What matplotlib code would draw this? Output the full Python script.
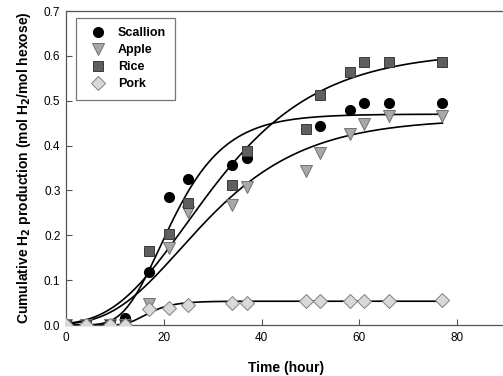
import numpy as np
import matplotlib
matplotlib.use("Agg")
import matplotlib.pyplot as plt

plt.rcParams['font.family'] = ['Liberation Sans', 'DejaVu Sans']

# Sampling times (hour)
hours = [0, 4, 9, 12, 17, 21, 25, 34, 37, 49, 52, 58, 61, 66, 77]

# Cumulative H2 (mol H2/mol hexose)
scallion = [0, 0, 0, 0.015, 0.119, 0.286, 0.325, 0.357, 0.372, 0.437, 0.443, 0.479, 0.496, 0.496, 0.496]
apple = [0, 0, 0, 0, 0.047, 0.171, 0.253, 0.267, 0.308, 0.343, 0.384, 0.426, 0.447, 0.466, 0.466]
rice = [0, 0, 0, 0, 0.165, 0.203, 0.273, 0.312, 0.388, 0.438, 0.512, 0.565, 0.587, 0.587, 0.587]
pork = [0, 0, 0, 0, 0.036, 0.038, 0.044, 0.048, 0.049, 0.053, 0.053, 0.053, 0.054, 0.054, 0.056]

# modified Gompertz fits: P, Rm, lambda
fit_P = {'Scallion': 0.47, 'Apple': 0.46, 'Rice': 0.61, 'Pork': 0.053}
fit_Rm = {'Scallion': 0.0234, 'Apple': 0.0121, 'Rice': 0.0151, 'Pork': 0.00573}
fit_lam = {'Scallion': 11.8, 'Apple': 9.4, 'Rice': 9.7, 'Pork': 12.3}


def gompertz(t, P, Rm, lam):
    return P * np.exp(-np.exp(Rm * np.e / P * (lam - t) + 1))


fig = plt.figure(figsize=(5.03, 3.76), dpi=100)
ax = fig.add_axes([66 / 503, 51 / 376, 440 / 503, 314 / 376])

t = np.linspace(0, 77, 300)
for name in ['Scallion', 'Apple', 'Rice', 'Pork']:
    ax.plot(t, gompertz(t, fit_P[name], fit_Rm[name], fit_lam[name]),
            color='black', lw=1.2, zorder=2)

ax.plot(hours, scallion, 'o', ms=7, mfc='black', mec='black', ls='none',
        label='Scallion', zorder=3)
ax.plot(hours, apple, 'v', ms=8, mfc='#a8a8a8', mec='#707070', mew=0.7,
        ls='none', label='Apple', zorder=3)
ax.plot(hours, rice, 's', ms=6.5, mfc='#5f5f5f', mec='#3a3a3a', mew=0.7,
        ls='none', label='Rice', zorder=3)
ax.plot(hours, pork, 'D', ms=7, mfc='#d9d9d9', mec='#808080', mew=0.7,
        ls='none', label='Pork', zorder=3)

ax.set_xlim(0, 90)
ax.set_ylim(0, 0.7)
ax.set_xticks([0, 20, 40, 60, 80])
ax.set_yticks(np.arange(0, 0.71, 0.1))
ax.yaxis.set_major_formatter(matplotlib.ticker.FormatStrFormatter('%.1f'))
ax.tick_params(direction='in', length=4, width=0.8, color='#555555',
               labelsize=8.5)
ax.tick_params(axis='x', pad=5)
ax.tick_params(axis='y', pad=4)
for s in ax.spines.values():
    s.set_color('#555555')
    s.set_linewidth(0.9)
ax.spines['right'].set_visible(False)

ax.set_xlabel('Time (hour)', fontsize=10, fontweight='bold', labelpad=12)
ax.set_ylabel('Cumulative H$_\\mathbf{2}$ production (mol H$_\\mathbf{2}$/mol hexose)',
              fontsize=10, fontweight='bold', labelpad=8)

leg = ax.legend(loc='upper left', bbox_to_anchor=(0.023, 0.978), borderaxespad=0,
                frameon=True, fancybox=False, edgecolor='#555555',
                prop={'weight': 'bold', 'size': 9}, handletextpad=0.6,
                labelspacing=0.4, borderpad=0.75, handlelength=2.0)
leg.get_frame().set_linewidth(0.9)

fig.savefig('out.png', dpi=100)
